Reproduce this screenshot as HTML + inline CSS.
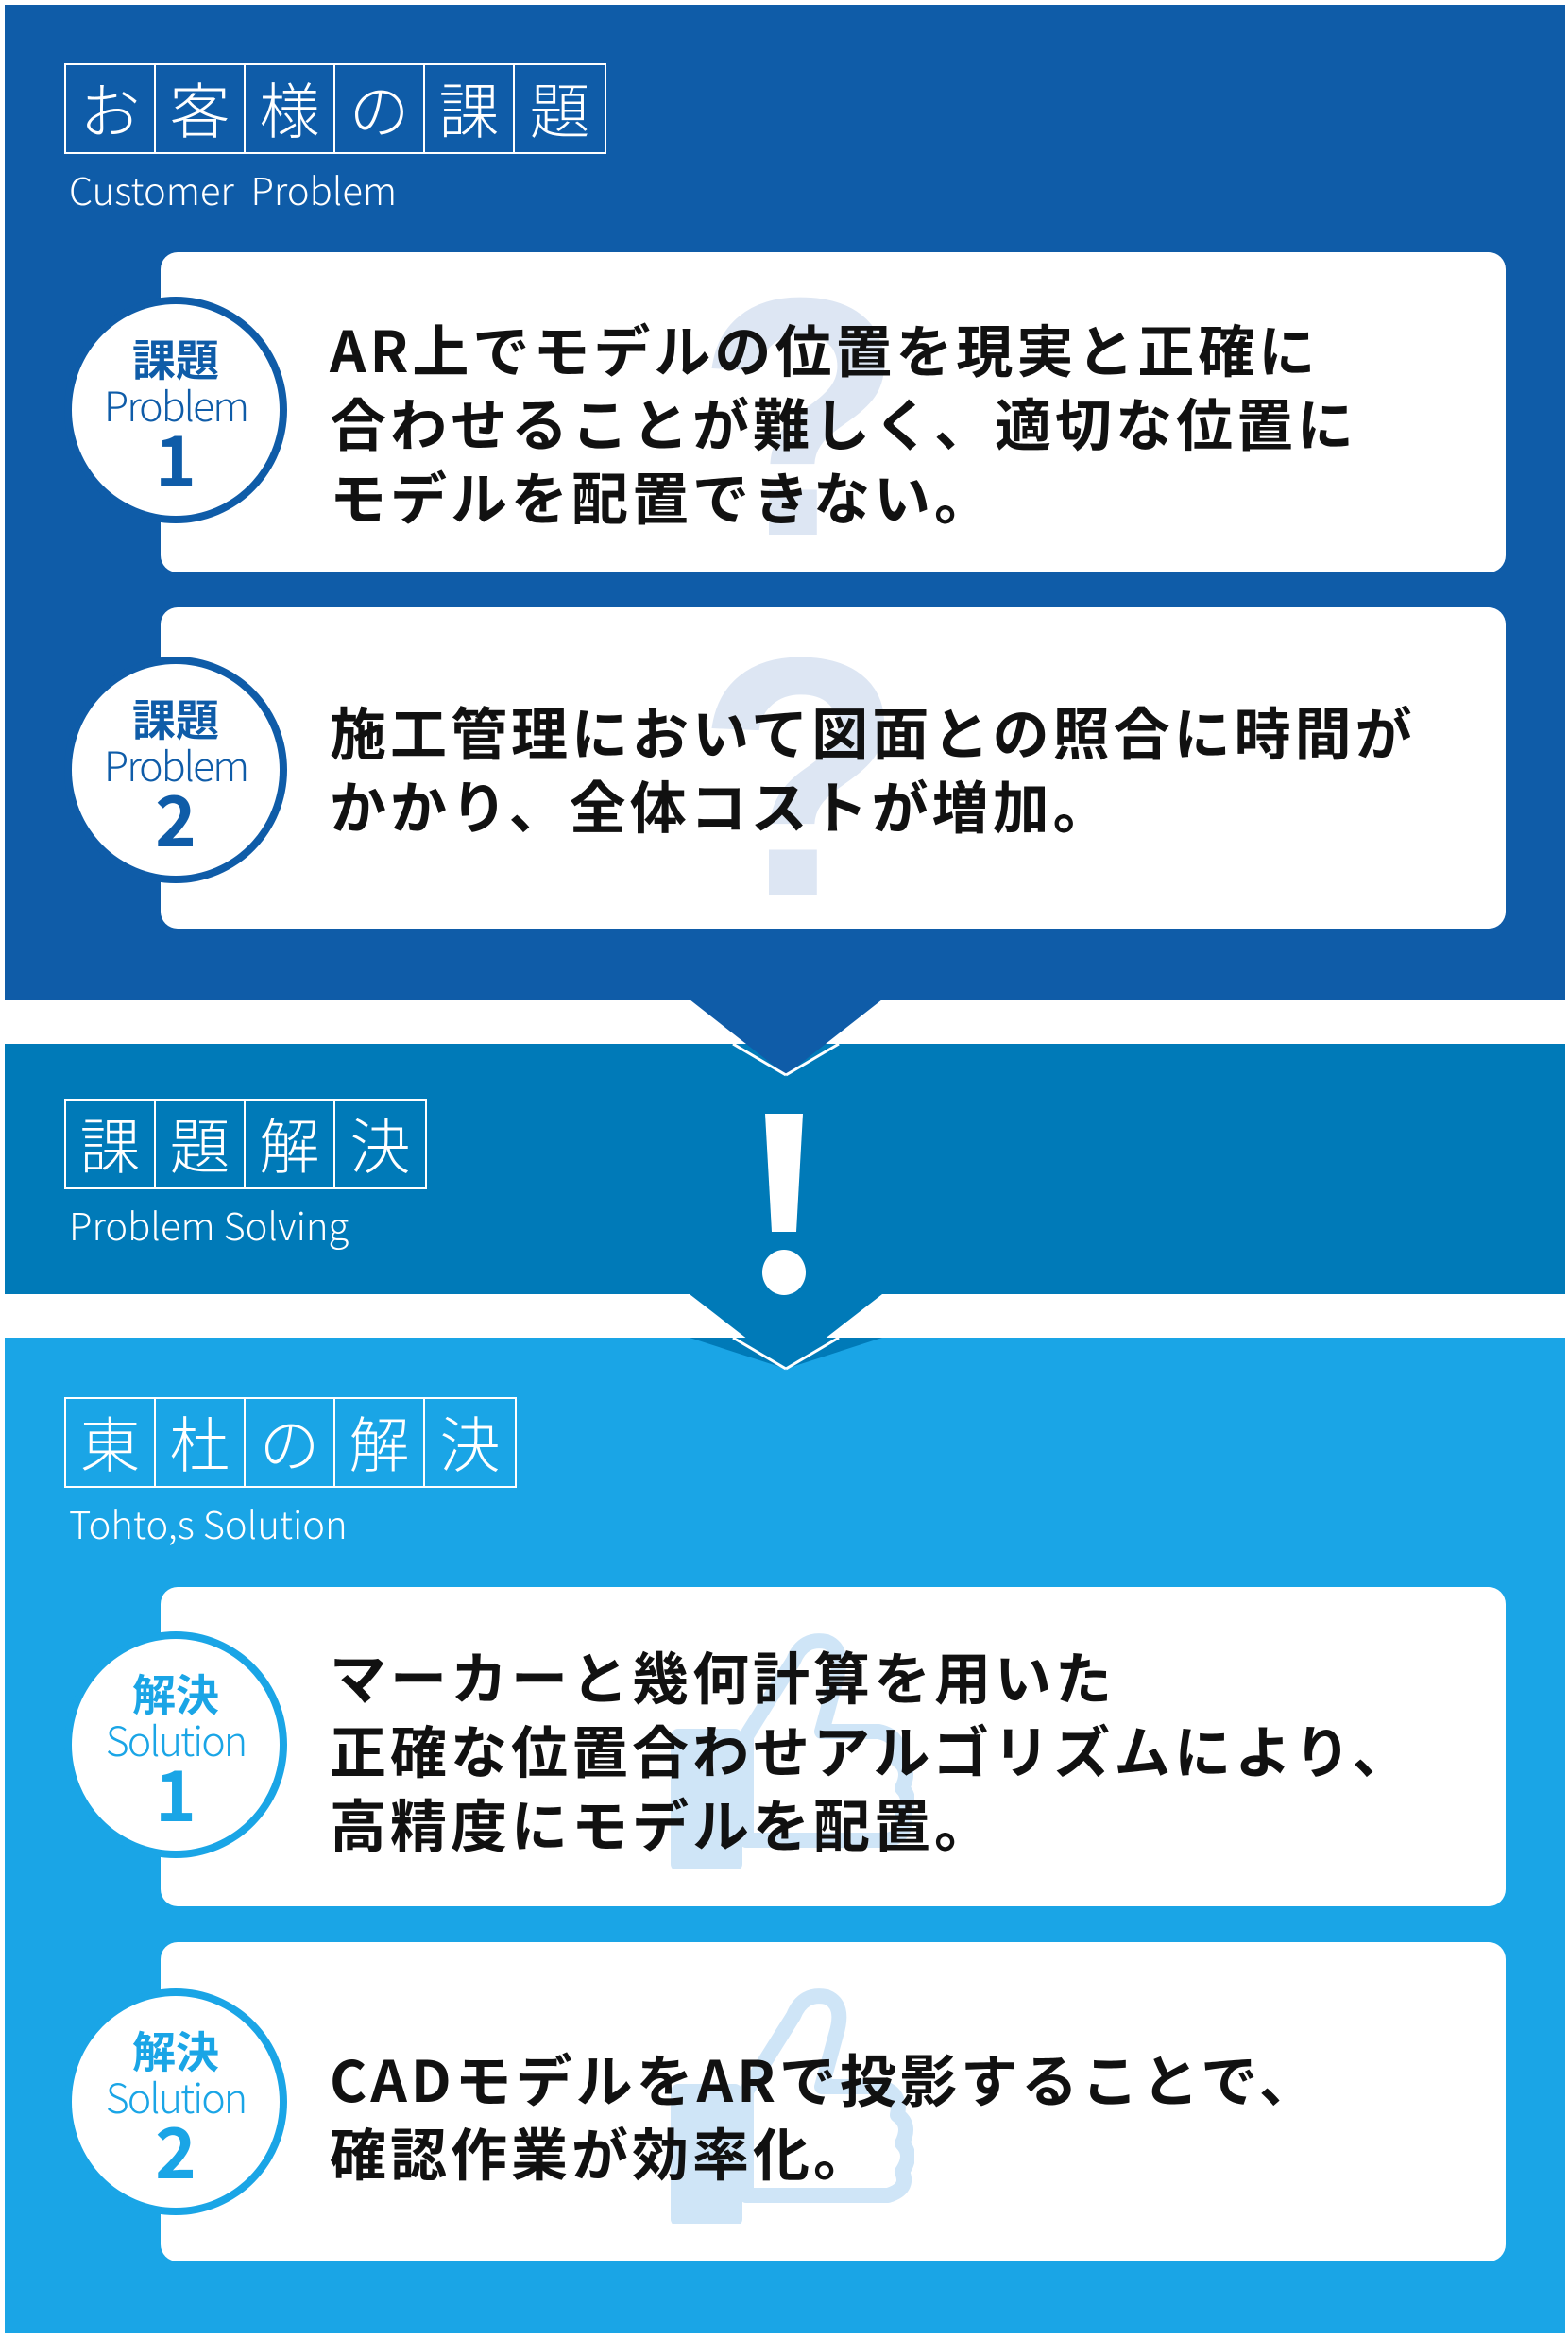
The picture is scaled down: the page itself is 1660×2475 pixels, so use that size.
<!DOCTYPE html>
<html><head><meta charset="utf-8"><style>
*{margin:0;padding:0;box-sizing:border-box}
body{width:1660px;height:2475px;background:#fff;position:relative;overflow:hidden;font-family:"Liberation Sans","Noto Sans CJK JP",sans-serif}
.abs{position:absolute}
.sec{position:absolute;left:5px;width:1652px}
.tbox{position:absolute;display:flex;border:2px solid #fff;height:96px}
.tbox span{width:95px;height:92px;border-right:2px solid #fff;color:#fff;font-family:"Noto Sans CJK JP",sans-serif;font-weight:300;font-size:64px;line-height:90px;text-align:center}
.tbox span:last-child{border-right:none}
.sub{position:absolute;color:#fff;font-family:"Noto Sans CJK JP",sans-serif;font-weight:300;font-size:40px;line-height:1}
.card{position:absolute;left:170px;width:1424px;background:#fff;border-radius:18px;overflow:hidden}
.circ{position:absolute;left:68px;width:236px;height:240px;border-radius:50%;background:#fff;border:8px solid;text-align:center;font-family:"Noto Sans CJK JP",sans-serif}
.circ .a{font-size:46px;font-weight:700;line-height:50px;margin-top:32px}
.circ .b{font-size:43px;font-weight:300;line-height:48px;letter-spacing:-2px}
.circ .c{font-size:74px;font-weight:700;line-height:64px}
.txt{position:absolute;left:349px;font-family:"Noto Sans CJK JP",sans-serif;font-weight:700;font-size:60px;line-height:78px;letter-spacing:4px;color:#111;white-space:nowrap}
.q{position:absolute;font-family:"Liberation Sans",sans-serif;font-weight:700;font-size:360px;color:#dde6f3;line-height:1}
</style></head><body>
<div class="sec" style="top:5px;height:1054px;background:#0f5ca8"></div>
<div class="tbox" style="left:68px;top:67px"><span>お</span><span>客</span><span>様</span><span>の</span><span>課</span><span>題</span></div>
<div class="sub" style="left:73px;top:180px">Customer&nbsp; Problem</div>

<div class="card" style="top:267px;height:339px"><div class="q" style="left:567px;top:-5px">?</div></div>
<div class="txt" style="top:330px">AR上でモデルの位置を現実と正確に<br>合わせることが難しく、適切な位置に<br>モデルを配置できない。</div>
<div class="circ" style="top:314px;border-color:#0f5ca8;color:#0f5ca8"><div class="a">課題</div><div class="b">Problem</div><div class="c">1</div></div>

<div class="card" style="top:643px;height:340px"><div class="q" style="left:567px;top:0px">?</div></div>
<div class="txt" style="top:735px">施工管理において図面との照合に時間が<br>かかり、全体コストが増加。</div>
<div class="circ" style="top:695px;border-color:#0f5ca8;color:#0f5ca8"><div class="a">課題</div><div class="b">Problem</div><div class="c">2</div></div>

<div class="sec" style="top:1105px;height:265px;background:#007ab8"></div>
<svg class="abs" style="left:0;top:1050px" width="1660" height="420">
<polygon points="730,8 934,8 832,88" fill="#0f5ca8"/>
<line x1="776" y1="55" x2="832" y2="88" stroke="#fff" stroke-width="3"/>
<line x1="888" y1="55" x2="832" y2="88" stroke="#fff" stroke-width="3"/>
<polygon points="730,320 934,320 832,399" fill="#007ab8"/>
<line x1="776" y1="366" x2="832" y2="399" stroke="#fff" stroke-width="3"/>
<line x1="888" y1="366" x2="832" y2="399" stroke="#fff" stroke-width="3"/>
<polygon points="810,129 850,129 843,254 817,254" fill="#fff"/>
<ellipse cx="830" cy="297" rx="23" ry="24" fill="#fff"/>
</svg>
<div class="tbox" style="left:68px;top:1163px"><span>課</span><span>題</span><span>解</span><span>決</span></div>
<div class="sub" style="left:73px;top:1276px">Problem Solving</div>

<div class="sec" style="top:1416px;height:1054px;background:#1aa5e6"></div>
<svg class="abs" style="left:0;top:1050px" width="1660" height="420">
<polygon points="730,366 934,366 832,399" fill="#007ab8"/>
<line x1="776" y1="366" x2="832" y2="399" stroke="#fff" stroke-width="3"/>
<line x1="888" y1="366" x2="832" y2="399" stroke="#fff" stroke-width="3"/>
</svg>
<div class="tbox" style="left:68px;top:1479px"><span>東</span><span>杜</span><span>の</span><span>解</span><span>決</span></div>
<div class="sub" style="left:73px;top:1592px">Tohto,s Solution</div>

<div class="card" style="top:1680px;height:338px">
<svg class="abs" style="left:538px;top:48px" width="260" height="250"><path d="M10 110 h60 v135 h-60 z M82 110 l50-80 q10-25 35-20 q20 8 10 40 l-15 55 h60 q25 5 20 30 q15 10 5 30 q12 12 0 30 q8 18-15 25 h-150 z" fill="none" stroke="#cfe5f7" stroke-width="16" stroke-linejoin="round"/><rect x="10" y="110" width="60" height="135" fill="#cfe5f7"/></svg>
</div>
<div class="txt" style="top:1735px">マーカーと幾何計算を用いた<br>正確な位置合わせアルゴリズムにより、<br>高精度にモデルを配置。</div>
<div class="circ" style="top:1727px;border-color:#1aa5e6;color:#1aa5e6"><div class="a">解決</div><div class="b">Solution</div><div class="c">1</div></div>

<div class="card" style="top:2056px;height:338px">
<svg class="abs" style="left:538px;top:48px" width="260" height="250"><path d="M10 110 h60 v135 h-60 z M82 110 l50-80 q10-25 35-20 q20 8 10 40 l-15 55 h60 q25 5 20 30 q15 10 5 30 q12 12 0 30 q8 18-15 25 h-150 z" fill="none" stroke="#cfe5f7" stroke-width="16" stroke-linejoin="round"/><rect x="10" y="110" width="60" height="135" fill="#cfe5f7"/></svg>
</div>
<div class="txt" style="top:2161px">CADモデルをARで投影することで、<br>確認作業が効率化。</div>
<div class="circ" style="top:2105px;border-color:#1aa5e6;color:#1aa5e6"><div class="a">解決</div><div class="b">Solution</div><div class="c">2</div></div>
</body></html>
